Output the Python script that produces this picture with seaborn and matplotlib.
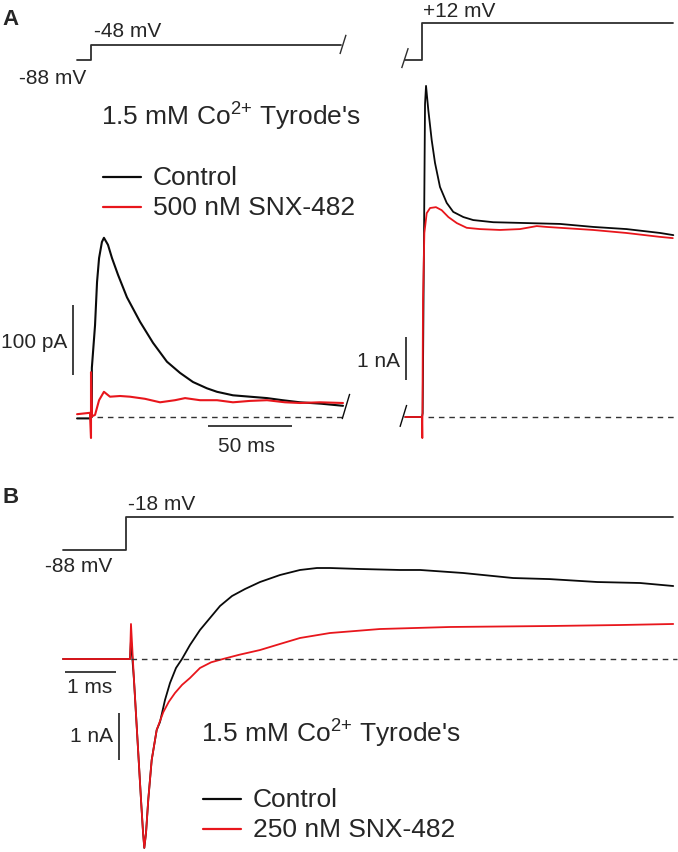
import matplotlib
matplotlib.use("Agg")
import matplotlib.pyplot as plt
from matplotlib.lines import Line2D
import seaborn as sns

sns.set_style("white")
plt.rcParams['font.family'] = ['Liberation Sans', 'DejaVu Sans']
plt.rcParams['mathtext.fontset'] = 'custom'
plt.rcParams['mathtext.rm'] = 'Liberation Sans'

W, H = 678, 852
BLACK = '#0a0a0a'
RED = '#e8161c'
VCOL = '#2e2e2e'

# ---- panel A, left: step -88 -> -48 mV (time ms, current pA) ----
a1_t_ctrl = [-8.3, -0.6, 0.5, 0.5, 2.4, 3.6, 4.8, 6.5, 7.7, 10.1, 12.5, 16.1, 21.4, 29.2,
             36.9, 45.2, 53.0, 60.7, 69.0, 75.0, 84.5, 94.6, 104.8, 114.0, 124.4, 137.0, 150.0]
a1_i_ctrl = [-2, -2, 0, 70, 131, 193, 227, 250, 256, 246, 227, 203, 171, 136,
             106, 79, 63, 50, 41, 36, 31, 29, 27, 24, 21, 19, 16]
a1_t_snx = [-8.3, -0.6, 0.0, 0.0, 0.6, 2.4, 4.8, 7.7, 11.3, 17.3, 23.2, 32.1, 41.1, 50.0,
            56.0, 64.9, 75.0, 84.5, 94.6, 104.8, 115.5, 124.4, 136.3, 150.0]
a1_i_snx = [4, 6, -30, 64, 1, 3, 24, 36, 29, 30, 29, 26, 21, 24,
            27, 24, 24, 21, 23, 24, 21, 20, 21, 20]
a1_v_t = [-8.3, 0.0, 0.0, 149.0]
a1_v = [-88, -88, -48, -48]

# ---- panel A, right: step -88 -> +12 mV (time ms, current nA) ----
a2_t_ctrl = [-10.0, 0.0, 0.4, 1.8, 2.4, 3.75, 5.77, 7.74, 10.7, 14.7, 18.6, 24.6, 30.5,
             42.4, 62.3, 82.1, 102.0, 121.8, 141.7, 149.6]
a2_i_ctrl = [0.0, 0.0, 0.09, 7.28, 7.70, 7.14, 6.44, 5.91, 5.35, 4.98, 4.77, 4.65, 4.58,
             4.53, 4.51, 4.49, 4.42, 4.37, 4.28, 4.23]
a2_t_snx = [-10.0, 0.0, 0.2, 0.6, 1.4, 2.8, 4.8, 8.3, 11.7, 15.7, 20.7, 26.6, 34.5,
            46.4, 58.3, 68.3, 74.2, 82.1, 101.8, 121.6, 141.4, 149.3]
a2_i_snx = [0.0, 0.0, -0.49, 2.72, 4.28, 4.74, 4.86, 4.88, 4.81, 4.65, 4.51, 4.40, 4.37,
            4.35, 4.37, 4.44, 4.42, 4.40, 4.35, 4.28, 4.19, 4.16]
a2_v_t = [-10.1, 0.0, 0.0, 149.3]
a2_v = [-88, -88, 12, 12]

# ---- panel B: step -88 -> -18 mV (time ms, current nA) ----
b_t_ctrl = [-1.255, 0.059, 0.078, 0.137, 0.206, 0.275, 0.314, 0.339, 0.373, 0.418, 0.484,
            0.582, 0.647, 0.745, 0.843, 0.961, 1.078, 1.235, 1.431, 1.627, 1.824, 2.059,
            2.314, 2.608, 3.0, 3.392, 3.725, 3.98, 4.57, 5.35, 5.75, 6.59, 7.57, 8.29,
            9.22, 10.06, 10.71]
b_i_ctrl = [0.0, 0.0, 0.40, -0.447, -1.723, -3.0, -3.68, -4.02, -3.70, -2.98, -2.15,
            -1.51, -1.34, -0.872, -0.511, -0.191, 0.0, 0.298, 0.617, 0.872, 1.128, 1.34,
            1.489, 1.638, 1.787, 1.894, 1.936, 1.936, 1.915, 1.894, 1.894, 1.83, 1.723,
            1.70, 1.638, 1.617, 1.553]
b_t_snx = [-1.255, 0.059, 0.078, 0.137, 0.206, 0.275, 0.314, 0.339, 0.373, 0.418, 0.484,
           0.582, 0.647, 0.712, 0.82, 0.941, 1.08, 1.235, 1.431, 1.65, 1.882, 2.2, 2.608,
           3.0, 3.392, 3.98, 4.96, 6.33, 8.29, 9.67, 10.71]
b_i_snx = [0.0, 0.0, 0.745, -0.447, -1.723, -3.0, -3.68, -4.02, -3.70, -2.98, -2.15,
           -1.51, -1.32, -1.13, -0.91, -0.723, -0.55, -0.404, -0.191, -0.07, 0.0, 0.09,
           0.191, 0.32, 0.447, 0.553, 0.638, 0.681, 0.702, 0.723, 0.745]
b_v_t = [-1.255, -0.02, -0.02, 10.71]
b_v = [-88, -88, -18, -18]

labels_a = ['Control', '500 nM SNX-482']
labels_b = ['Control', '250 nM SNX-482']
solution = "1.5 mM Co$^{2{+}}$ Tyrode's"

fig = plt.figure(figsize=(W / 100, H / 100), dpi=100)


def place(x0, y0, sx, sy, xlim, ylim):
    # axes whose data origin sits at pixel (x0, y0), sx/sy = pixels per unit
    left = x0 + xlim[0] * sx
    bottom = y0 - ylim[0] * sy
    ax = fig.add_axes([left / W, 1 - bottom / H,
                       (xlim[1] - xlim[0]) * sx / W, (ylim[1] - ylim[0]) * sy / H])
    ax.set_xlim(xlim)
    ax.set_ylim(ylim)
    ax.set_axis_off()
    return ax


def trace(ax, t, y, color, lw=1.2):
    sns.lineplot(x=t, y=y, ax=ax, color=color, lw=lw, estimator=None, sort=False,
                 legend=False)


def bar(ax, xs, ys, lw=1.1, color=BLACK):
    ax.plot(xs, ys, color=color, lw=lw, solid_capstyle='butt', clip_on=False)


def base(ax, t0, t1):
    ax.plot([t0, t1], [0, 0], color='#333333', lw=1.0, ls=(0, (4, 3.5)))


def txt(x, y, s, size=15, ha='left', weight='normal'):
    fig.text(x / W, 1 - y / H, s, fontsize=size, ha=ha, va='baseline', fontweight=weight)


# panel A left
ax = place(91, 417, 1.68, 0.7, (-14, 158), (-50, 270))
trace(ax, a1_t_ctrl, a1_i_ctrl, BLACK, 1.5)
trace(ax, a1_t_snx, a1_i_snx, RED, 1.5)
base(ax, 3.6, 150)
bar(ax, [149.5, 154], [-3, 33], lw=1.0)
bar(ax, [-10.7, -10.7], [60, 160])            # 100 pA
bar(ax, [69.6, 119.6], [-12.9, -12.9])        # 50 ms

axv = place(91, 27.4, 1.68, 0.37, (-14, 158), (-110, -20))
trace(axv, a1_v_t, a1_v, VCOL, 1.3)
bar(axv, [148.2, 151.8], [-72, -20], lw=1.0, color=VCOL)

# panel A right
ax = place(422, 417, 1.68, 43, (-16, 152), (-1, 8.2))
trace(ax, a2_t_ctrl, a2_i_ctrl, BLACK, 1.3)
trace(ax, a2_t_snx, a2_i_snx, RED, 1.3)
base(ax, 3.6, 150)
bar(ax, [-13.1, -9.1], [-0.23, 0.28], lw=1.0)
bar(ax, [-9.7, -9.7], [0.86, 1.86])           # 1 nA

axv = place(422, 27.4, 1.68, 0.37, (-16, 152), (-115, 30))
trace(axv, a2_v_t, a2_v, VCOL, 1.3)
bar(axv, [-12.1, -8.2], [-110, -56], lw=1.0, color=VCOL)

# panel B
ax = place(127, 659, 51, 47, (-1.3, 10.9), (-4.2, 2.3))
trace(ax, b_t_ctrl, b_i_ctrl, BLACK, 1.3)
trace(ax, b_t_snx, b_i_snx, RED, 1.3)
base(ax, 0.08, 10.78)
bar(ax, [-1.216, -0.216], [-0.277, -0.277])   # 1 ms
bar(ax, [-0.157, -0.157], [-1.15, -2.15])     # 1 nA

axv = place(127, 508.5, 51, 0.471, (-1.3, 10.9), (-100, -5))
trace(axv, b_v_t, b_v, VCOL, 1.3)

# legends (drawn by hand, figure pixels)
for (x0, x1, y, c) in [(103, 141, 177, BLACK), (103, 141, 207, RED),
                       (203, 241, 799, BLACK), (203, 241, 829, RED)]:
    fig.add_artist(Line2D([x0 / W, x1 / W], [1 - y / H, 1 - y / H], color=c, lw=1.6))

# text
txt(2, 25, 'A', 16, weight='bold')
txt(3, 503, 'B', 16, weight='bold')
txt(94, 37, '-48 mV')
txt(19, 84, '-88 mV')
txt(423, 17, '+12 mV')
txt(101, 125, solution, 19)
txt(153, 185, labels_a[0], 19)
txt(153, 215, labels_a[1], 19)
txt(67, 348, '100 pA', ha='right')
txt(247, 452, '50 ms', ha='center')
txt(400, 367, '1 nA', ha='right')
txt(128, 510, '-18 mV')
txt(45, 572, '-88 mV')
txt(90, 693, '1 ms', ha='center')
txt(113, 742, '1 nA', ha='right')
txt(201, 742, solution, 19)
txt(253, 807, labels_b[0], 19)
txt(253, 837, labels_b[1], 19)

fig.savefig('out.png', dpi=100)
